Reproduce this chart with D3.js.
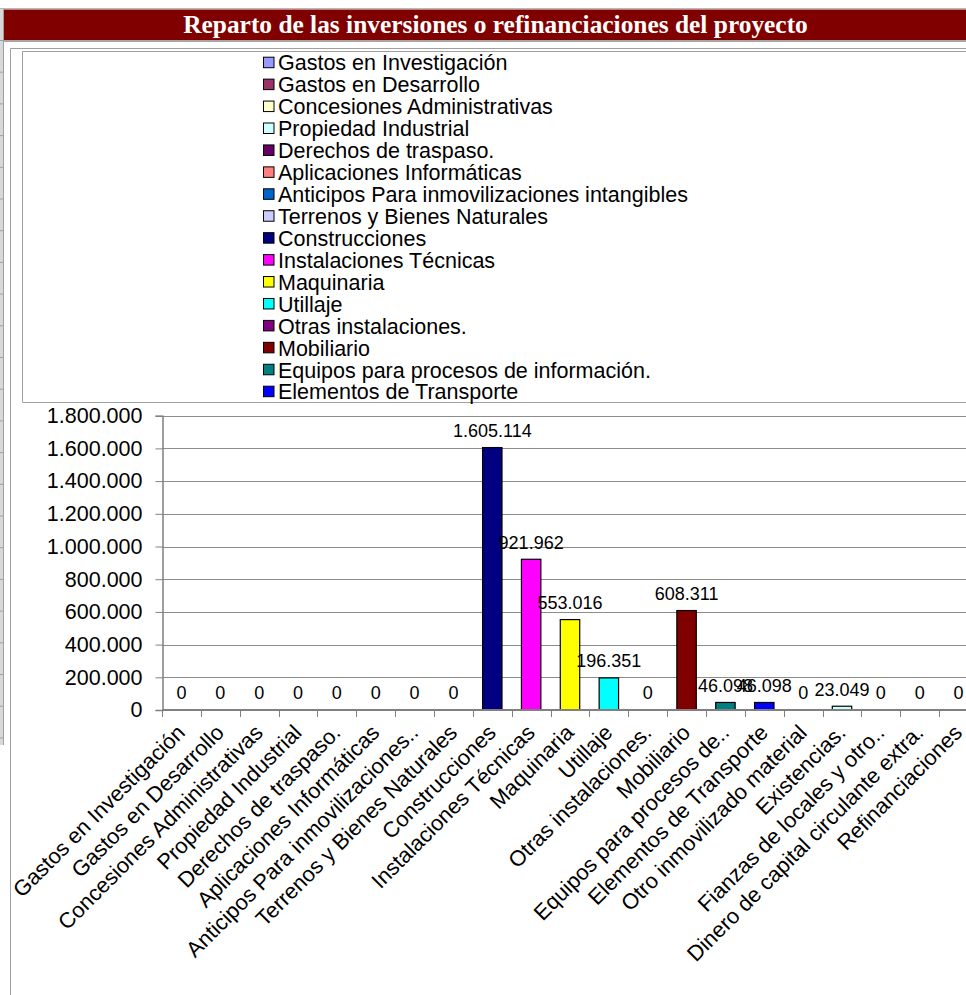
<!DOCTYPE html>
<html><head><meta charset="utf-8">
<script src="https://cdn.jsdelivr.net/npm/d3@7"></script>
<style>html,body{margin:0;padding:0;background:#fff;overflow:hidden}</style>
</head><body>
<svg id="c" width="966" height="995"></svg>
<script>
const titleText = "Reparto de las inversiones o refinanciaciones del proyecto";
const categories = [
  "Gastos en Investigación","Gastos en Desarrollo","Concesiones Administrativas","Propiedad Industrial",
  "Derechos de traspaso.","Aplicaciones Informáticas","Anticipos Para inmovilizaciones intangibles",
  "Terrenos y Bienes Naturales","Construcciones","Instalaciones Técnicas","Maquinaria","Utillaje",
  "Otras instalaciones.","Mobiliario","Equipos para procesos de información.","Elementos de Transporte",
  "Otro inmovilizado material","Existencias.","Fianzas de locales y otros","Dinero de capital circulante extra.",
  "Refinanciaciones"
];
const axisLabels = [
  "Gastos en Investigación","Gastos en Desarrollo","Concesiones Administrativas","Propiedad Industrial",
  "Derechos de traspaso.","Aplicaciones Informáticas","Anticipos Para inmovilizaciones..",
  "Terrenos y Bienes Naturales","Construcciones","Instalaciones Técnicas","Maquinaria","Utillaje",
  "Otras instalaciones.","Mobiliario","Equipos para procesos de..","Elementos de Transporte",
  "Otro inmovilizado material","Existencias.","Fianzas de locales y otro..","Dinero de capital circulante extra.",
  "Refinanciaciones"
];
const values = [0,0,0,0,0,0,0,0,1605114,921962,553016,196351,0,608311,46098,46098,0,23049,0,0,0];
const colors = ["#9999FF","#993366","#FFFFCC","#CCFFFF","#660066","#FF8080","#0066CC","#CCCCFF",
  "#000080","#FF00FF","#FFFF00","#00FFFF","#800080","#800000","#008080","#0000FF",
  "#00CCFF","#CCFFFF","#CCFFCC","#FFFF99","#99CCFF"];
const legendCount = 16;
const yTicks = [0,200000,400000,600000,800000,1000000,1200000,1400000,1600000,1800000];

(function(){
const W = 966, H = 995;
const svg = d3.select("#c");
const fmt = v => d3.format(",")(v).replace(/,/g, ".");
const SANS = "'Liberation Sans', Arial, Helvetica, sans-serif";

// spreadsheet left strip
svg.append("line").attr("x1",0).attr("x2",W).attr("y1",8.5).attr("y2",8.5).attr("stroke","#b8b8b8");
svg.append("rect").attr("x",0).attr("y",9).attr("width",3).attr("height",736).attr("fill","#d8d8d8");
svg.append("line").attr("x1",3.5).attr("x2",3.5).attr("y1",9).attr("y2",745).attr("stroke","#a0a0a0");
svg.selectAll("line.row").data(d3.range(40, 745, 31.7)).join("line").attr("class","row")
  .attr("x1",0).attr("x2",3).attr("y1",d=>d+0.5).attr("y2",d=>d+0.5).attr("stroke","#a0a0a0");

// title bar
svg.append("rect").attr("x",4).attr("y",9.5).attr("width",W-4).attr("height",31).attr("fill","#800000");
svg.append("line").attr("x1",4).attr("x2",W).attr("y1",41).attr("y2",41).attr("stroke","#a8a8a8").attr("stroke-width",2);
const title = svg.append("text").attr("x",495.5).attr("y",33).attr("text-anchor","middle")
  .attr("fill","#fff").attr("font-family","'Liberation Serif','Times New Roman',serif")
  .attr("font-weight","bold").attr("font-size",24).text(titleText);
const tw = title.node().getComputedTextLength();
title.attr("font-size", 24 * 625 / tw);

// chart frame
svg.append("path").attr("d",`M10.5,${H} V48.5 H${W}`).attr("fill","none").attr("stroke","#a0a0a0");
// legend box
svg.append("path").attr("d",`M${W},51.5 H22.5 V402.5 H${W}`).attr("fill","none").attr("stroke","#a0a0a0");

// legend
const lg = svg.append("g");
const rows = d3.range(legendCount);
const ly = d3.scaleLinear().domain([0, legendCount-1]).range([62.7, 391.7]);
lg.selectAll("rect").data(rows).join("rect")
  .attr("x",263.5).attr("y",i=>ly(i)-5.5).attr("width",10.5).attr("height",10.5)
  .attr("fill",i=>colors[i]).attr("stroke","#000").attr("stroke-width",1);
lg.selectAll("text").data(rows).join("text")
  .attr("x",278).attr("y",i=>ly(i)).attr("dy","0.36em")
  .attr("font-family",SANS).attr("font-size",21.5).attr("fill","#000").text(i=>categories[i]);

// plot
const pLeft = 162, pRight = 978, pTop = 415.7, pBottom = 710;
const x = d3.scaleBand().domain(categories).range([pLeft, pRight]).padding(0);
const y = d3.scaleLinear().domain([0, 1800000]).range([pBottom, pTop]);
const bw = x.bandwidth();

// gridlines
svg.append("g").selectAll("line").data(yTicks.filter(t=>t>0)).join("line")
  .attr("x1",pLeft).attr("x2",W).attr("y1",d=>Math.round(y(d))+0.5).attr("y2",d=>Math.round(y(d))+0.5)
  .attr("stroke","#8c8c8c").attr("stroke-width",1);

// y axis
const yAxis = svg.append("g").attr("transform",`translate(${pLeft+0.5},0)`)
  .call(d3.axisLeft(y).tickValues(yTicks).tickFormat(fmt).tickSize(7).tickPadding(13));
yAxis.select(".domain").attr("stroke","#808080").attr("stroke-width",1.5);
yAxis.selectAll(".tick line").attr("stroke","#808080");
yAxis.selectAll(".tick text").attr("font-family",SANS).attr("font-size",21.5).attr("fill","#000");

// bars
svg.append("g").selectAll("rect").data(categories.map((c,i)=>({c, v: values[i], col: colors[i]})).filter(d=>d.v>0))
  .join("rect")
  .attr("x",d=>x(d.c)+bw*0.25).attr("y",d=>y(d.v)).attr("width",bw*0.5).attr("height",d=>pBottom-y(d.v))
  .attr("fill",d=>d.col).attr("stroke","#000").attr("stroke-width",1.2);

// x axis
const xAxis = svg.append("g").attr("transform",`translate(0,${pBottom})`);
xAxis.append("line").attr("x1",pLeft).attr("x2",W).attr("y1",0).attr("y2",0).attr("stroke","#808080").attr("stroke-width",2);
xAxis.selectAll("line.t").data(categories).join("line").attr("class","t")
  .attr("x1",d=>Math.round(x(d))+0.5).attr("x2",d=>Math.round(x(d))+0.5).attr("y1",0).attr("y2",7)
  .attr("stroke","#808080");
xAxis.selectAll("text").data(categories).join("text")
  .attr("transform",(d)=>`translate(${x(d)+bw/2+5},${24}) rotate(-45)`)
  .attr("text-anchor","end")
  .attr("font-family",SANS).attr("font-size",21.8).attr("fill","#000")
  .text((d,i)=>axisLabels[i]);

// data labels
svg.append("g").selectAll("text").data(categories.map((c,i)=>({c, v: values[i]})))
  .join("text")
  .attr("x",d=>x(d.c)+bw/2).attr("y",d=>y(d.v)-17).attr("dy","0.36em")
  .attr("text-anchor","middle").attr("font-family",SANS).attr("font-size",18).attr("fill","#000")
  .text(d=>fmt(d.v));
})();
</script>
</body></html>
